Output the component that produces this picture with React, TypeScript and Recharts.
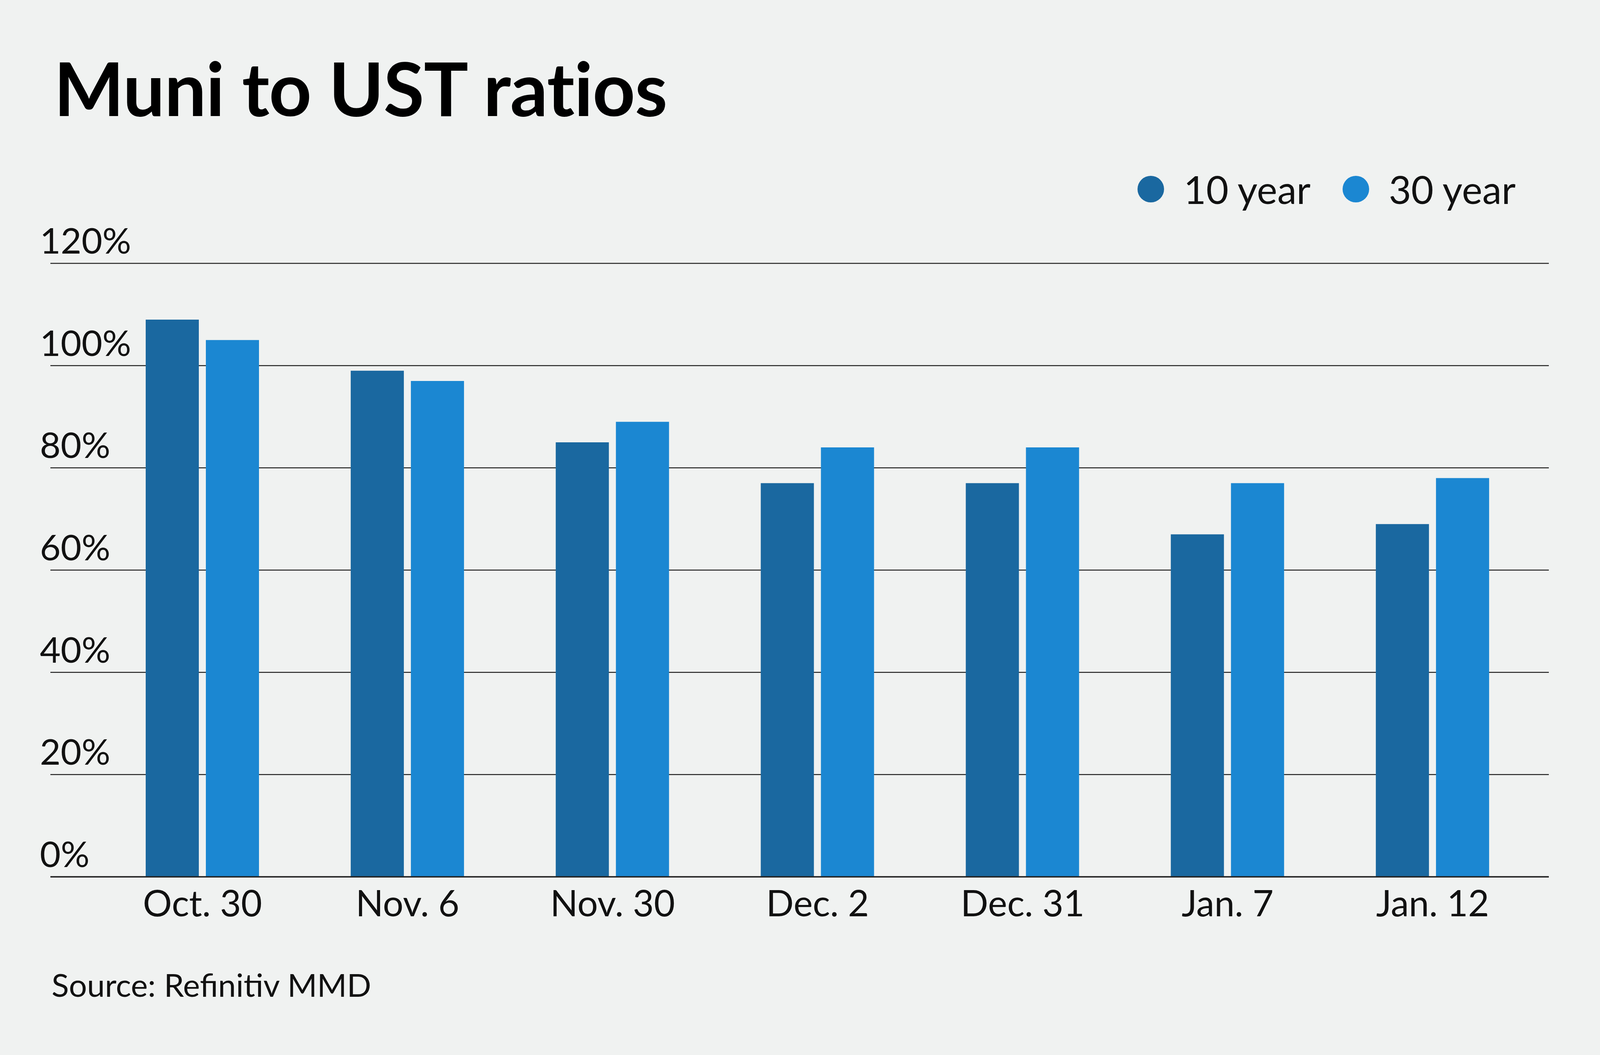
import React from 'react';
import { BarChart, Bar, XAxis, YAxis, CartesianGrid, Legend } from 'recharts';

const dates = ['Oct. 30', 'Nov. 6', 'Nov. 30', 'Dec. 2', 'Dec. 31', 'Jan. 7', 'Jan. 12'];
const tenYear = [109, 99, 85, 77, 77, 67, 69];
const thirtyYear = [105, 97, 89, 84, 84, 77, 78];
const yTicks = [0, 20, 40, 60, 80, 100, 120];

const FONT = 'Lato, "Open Sans", sans-serif';
const DARK = '#1a68a0';
const LIGHT = '#1b87d2';
const BG = '#f0f2f1';

// the page is 4096 px wide, so the layout is laid out on that width
const W = 4096;
const H = 2700;

const chartData = dates.map((date, i) => ({
  date,
  tenYear: tenYear[i],
  thirtyYear: thirtyYear[i],
}));

const YTick = (props: any) => {
  const { y, payload } = props;
  return (
    <text x={102} y={y - 25} textAnchor="start" fontSize={92} fontFamily={FONT} fill="#111">
      {payload.value}%
    </text>
  );
};

const XTick = (props: any) => {
  const { x, y, payload } = props;
  return (
    <text x={x} y={y + 101} textAnchor="middle" fontSize={93} fontFamily={FONT} fill="#111">
      {payload.value}
    </text>
  );
};

const LegendContent = (props: any) => {
  const { payload } = props;
  return (
    <div style={{ display: 'flex', alignItems: 'center', fontFamily: FONT }}>
      {(payload || []).map((item: any, i: number) => (
        <div key={item.value} style={{ display: 'flex', alignItems: 'center', marginLeft: i === 0 ? 0 : 82 }}>
          <div style={{ width: 68, height: 68, borderRadius: 34, background: item.color, marginRight: 50 }} />
          <span style={{ fontSize: 99, lineHeight: '99px', color: '#111' }}>{item.value}</span>
        </div>
      ))}
    </div>
  );
};

export default function App() {
  return (
    <div style={{ position: 'absolute', left: 0, top: 0, width: W, height: H, background: BG, overflow: 'hidden' }}>
      <div
        style={{
          position: 'absolute',
          left: 138,
          top: 128,
          fontFamily: FONT,
          fontWeight: 700,
          fontSize: 190,
          letterSpacing: -1,
          lineHeight: 1,
          color: '#000',
          whiteSpace: 'nowrap',
        }}
      >
        Muni to UST ratios
      </div>
      <BarChart
        width={W}
        height={H}
        data={chartData}
        margin={{ top: 674, right: 131, bottom: 306, left: 99 }}
        barSize={136}
        barGap={18}
      >
        <CartesianGrid horizontal vertical={false} stroke="#222" strokeWidth={2.5} />
        <XAxis
          dataKey="date"
          padding={{ left: 127, right: 35 }}
          axisLine={{ stroke: '#222', strokeWidth: 3.5 }}
          tickLine={false}
          tickSize={0}
          tickMargin={0}
          height={150}
          tick={<XTick />}
          interval={0}
        />
        <YAxis
          domain={[0, 120]}
          ticks={yTicks}
          width={30}
          axisLine={false}
          tickLine={false}
          tick={<YTick />}
          interval={0}
        />
        <Legend
          layout="horizontal"
          verticalAlign="middle"
          align="center"
          content={<LegendContent />}
          wrapperStyle={{ position: 'absolute', top: 434, right: 216, left: 'auto', width: 'auto' }}
        />
        <Bar dataKey="tenYear" name="10 year" fill={DARK} isAnimationActive={false} />
        <Bar dataKey="thirtyYear" name="30 year" fill={LIGHT} isAnimationActive={false} />
      </BarChart>
      <div
        style={{
          position: 'absolute',
          left: 132,
          top: 2478,
          fontFamily: FONT,
          fontSize: 82,
          lineHeight: 1,
          color: '#111',
          whiteSpace: 'nowrap',
        }}
      >
        Source: Refinitiv MMD
      </div>
    </div>
  );
}
